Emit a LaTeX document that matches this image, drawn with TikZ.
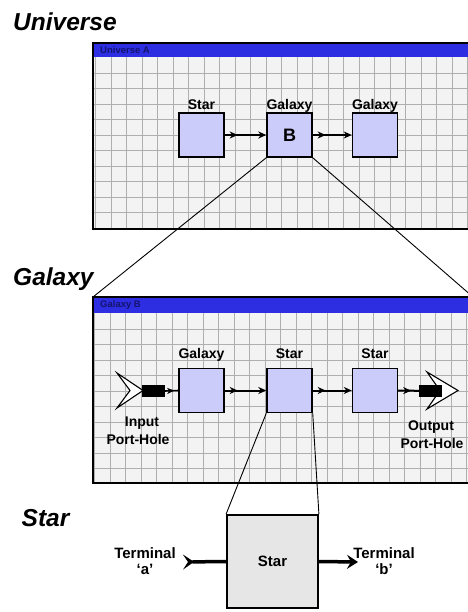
\documentclass[tikz,border=0pt]{standalone}
\usepackage{fontspec}
\setmainfont{Liberation Sans}
\usetikzlibrary{arrows.meta,decorations.markings}
\definecolor{boxfill}{RGB}{204,204,250}
\definecolor{barblue}{RGB}{45,45,225}
\definecolor{bartext}{RGB}{20,20,110}
\definecolor{gridbg}{RGB}{243,243,243}
\definecolor{gridline}{RGB}{175,175,175}
\definecolor{stargray}{RGB}{230,230,230}
\begin{document}
\begin{tikzpicture}[x=1pt,y=-1pt,
  blk/.style={draw=black, line width=1.4pt, fill=boxfill, minimum width=45pt, minimum height=44pt, inner sep=0pt},
  lbl/.style={font=\bfseries\fontsize{14}{16}\selectfont, inner sep=0pt, anchor=base},
  big/.style={font=\bfseries\itshape\fontsize{24.5}{28}\selectfont, inner sep=0pt, anchor=base west},
  conn/.style={line width=2pt, -{Stealth[length=8pt,width=7pt,inset=2.5pt]}, postaction={decorate},
    decoration={markings, mark=at position 13pt with {\arrow{Stealth[length=8pt,width=7pt,inset=2.5pt]}}}},
  portconn/.style={line width=1.6pt, postaction={decorate},
    decoration={markings, mark=at position 0.7 with {\arrow{Stealth[length=7pt,width=6pt,inset=2pt]}}}},
  bartitle/.style={font=\bfseries\fontsize{9.5}{11}\selectfont, text=bartext, anchor=west, inner sep=0pt},
  gridl/.style={draw=gridline, line width=0.6pt},
  framel/.style={draw=black, line width=1.5pt},
  chev/.style={draw=black, fill=white, line width=1.1pt},
  portrect/.style={fill=black, minimum width=23pt, minimum height=12pt, inner sep=0pt},
  zoomline/.style={draw=black, line width=0.9pt},
  term/.style={line width=3.5pt},
]
\useasboundingbox (0,0) rectangle (467,612);
\fill[white] (0,0) rectangle (467,612);

% ---------- Universe frame ----------
\fill[gridbg] (93,57) rectangle (472,229);
\begin{scope}
  \clip (93,57) rectangle (472,229);
  \foreach \i in {0,...,25} \draw[gridl] (95.5+15.5*\i,57) -- ++(0,172);
  \foreach \j in {0,...,11} \draw[gridl] (93,73+15.5*\j) -- ++(380,0);
\end{scope}
\fill[barblue] (93,43) rectangle (472,57);
\draw[framel] (93,43) rectangle (472,229);
\node[bartitle] (utitle) at (100,50) {Universe A};

\node[big] (universe) at (13,30.5) {Universe};

% ---------- Galaxy frame ----------
\fill[gridbg] (93,313) rectangle (472,483);
\begin{scope}
  \clip (93,313) rectangle (472,483);
  \foreach \i in {0,...,25} \draw[gridl] (94.5+15.5*\i,313) -- ++(0,170);
  \foreach \j in {0,...,10} \draw[gridl] (93,329+15.5*\j) -- ++(380,0);
\end{scope}
\fill[barblue] (93,297) rectangle (472,313);
\draw[framel] (93,297) rectangle (472,483);
\node[bartitle] (gtitle) at (100,305) {Galaxy B};

\node[big] (galaxy) at (13,285) {Galaxy};
\node[big] (star) at (21.5,526.5) {Star};

\coordinate (gfnw) at (93,297);
\coordinate (gfne) at (473,297);

% ---------- Universe contents ----------
\node[blk] (us) at (201.5,135) {};
\node[blk] (ub) at (289.5,135) {\bfseries\fontsize{18}{20}\selectfont B};
\node[blk] (ug) at (375,135) {};
\node[lbl] (usl) at (201.5,110) {Star};
\node[lbl] (ubl) at (289.5,110) {Galaxy};
\node[lbl] (ugl) at (375,110) {Galaxy};
\draw[conn] (us.east) -- (ub.west);
\draw[conn] (ub.east) -- (ug.west);

% ---------- Galaxy contents ----------
\node[blk] (g1) at (201.5,390.5) {};
\node[blk] (g2) at (289.5,390.5) {};
\node[blk] (g3) at (375,390.5) {};
\node[lbl] (g1l) at (201.5,358.5) {Galaxy};
\node[lbl] (g2l) at (289.5,358.5) {Star};
\node[lbl] (g3l) at (375,358.5) {Star};
\draw[conn] (g1.east) -- (g2.west);
\draw[conn] (g2.east) -- (g3.west);

% input port-hole
\draw[chev] (117,373) -- (143,390.5) -- (117,408) -- (130,390.5) -- cycle;
\node[portrect] (inrect) at (153,391) {};
\draw[portconn] (inrect.east) -- (g1.west);
\node[lbl] (inl1) at (142,426.5) {Input};
\node[lbl] (inl2) at (138,444) {Port-Hole};

% output port-hole
\draw[conn] (g3.east) -- (430.5,391);
\draw[chev] (427,372) -- (458,390.5) -- (427,409) -- (440,390.5) -- cycle;
\node[portrect] (outrect) at (430.5,391) {};
\node[lbl] (outl1) at (431,430) {Output};
\node[lbl] (outl2) at (432,448.5) {Port-Hole};

% ---------- Star ----------
\node[draw=black, line width=1.8pt, fill=stargray, minimum width=91pt, minimum height=93pt, inner sep=0pt] (sb) at (272.5,561.5) {};
\node[lbl, font=\bfseries\fontsize{15}{17}\selectfont] (sbl) at (272.5,566.5) {Star};

\coordinate (ta) at (183,562);
\coordinate (tb) at (358,562);
\draw[term, {Stealth[reversed,length=11pt,width=15pt,inset=5pt]}-] (ta) -- (sb.west);
\draw[term, -{Stealth[length=11pt,width=14pt,inset=4pt]}] (sb.east) -- (tb);
\node[lbl, font=\bfseries\fontsize{15}{17}\selectfont] (tal1) at (145,558.3) {Terminal};
\node[lbl, font=\bfseries\fontsize{15}{17}\selectfont] (tal2) at (145,574) {‘a’};
\node[lbl, font=\bfseries\fontsize{15}{17}\selectfont] (tbl1) at (384,558.3) {Terminal};
\node[lbl, font=\bfseries\fontsize{15}{17}\selectfont] (tbl2) at (384,574) {‘b’};

% ---------- zoom lines ----------
\draw[zoomline] (ub.south west) -- (gfnw);
\draw[zoomline] (ub.south east) -- (gfne);
\draw[zoomline] (g2.south west) -- (sb.north west);
\draw[zoomline] (g2.south east) -- (sb.north east);
\end{tikzpicture}
\end{document}
